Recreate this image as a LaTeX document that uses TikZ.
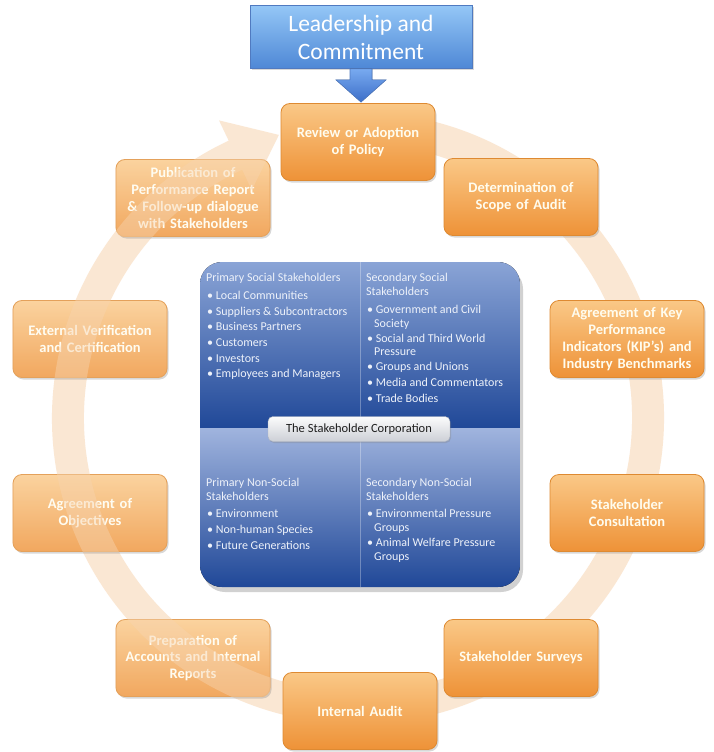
\documentclass[tikz,border=0pt]{standalone}
\usepackage{fontspec}
\setmainfont{Carlito}
\usetikzlibrary{calc,shadows}
\definecolor{otop}{RGB}{250,200,135}
\definecolor{obot}{RGB}{238,146,55}
\definecolor{oline}{RGB}{222,138,50}
\definecolor{ringc}{RGB}{247,212,175}
\definecolor{btopA}{RGB}{138,164,214}
\definecolor{btopB}{RGB}{160,180,222}
\definecolor{bbot}{RGB}{32,72,152}
\definecolor{ltop}{RGB}{148,198,246}
\definecolor{lbot}{RGB}{78,136,214}
\definecolor{lline}{RGB}{80,122,192}
\definecolor{btext}{RGB}{238,242,250}
\definecolor{otext}{RGB}{255,252,238}
\tikzset{
  obox/.style={draw=oline, line width=0.8pt, rounded corners=9pt,
    top color=otop, bottom color=obot, minimum width=154pt, minimum height=77pt,
    text width=152pt, align=center, text=otext, inner sep=0pt,
    font=\bfseries\fontsize{14.5}{16.8}\selectfont,
    drop shadow={opacity=0.3, shadow xshift=1.5pt, shadow yshift=-2pt}},
  btxt/.style={anchor=mid west, inner sep=0pt, text=btext, font=\fontsize{12}{14}\selectfont},
  ringfill/.style={fill=ringc, fill opacity=0.55},
  ringover/.style={fill=ringc, fill opacity=0.45},
  leadbox/.style={draw=lline, line width=0.8pt, top color=ltop, bottom color=lbot,
    minimum width=222pt, minimum height=63pt, align=center, text=white, inner sep=0pt,
    font=\fontsize{23.5}{28}\selectfont,
    drop shadow={opacity=0.3, shadow xshift=1.5pt, shadow yshift=-2pt}},
  corpbox/.style={draw={rgb,255:red,175;green,180;blue,190}, rounded corners=5pt,
    top color={rgb,255:red,252;green,252;blue,252}, bottom color={rgb,255:red,204;green,207;blue,214},
    minimum width=182pt, minimum height=25pt, inner sep=0pt,
    text={rgb,255:red,30;green,30;blue,30}, font=\fontsize{12.5}{14}\selectfont,
    drop shadow={opacity=0.3, shadow xshift=1pt, shadow yshift=-1.5pt}},
  barrow/.style={draw=lline, line width=0.6pt, top color={rgb,255:red,120;green,170;blue,240}, bottom color={rgb,255:red,60;green,110;blue,200}}
}
\begin{document}
\begin{tikzpicture}[x=1pt,y=-1pt]
\useasboundingbox (0,0) rectangle (713,752);
\fill[white] (0,0) rectangle (713,752);

% circular arrow (behind)
\begin{scope}[shift={(358,418)}]
\fill[ringfill] (-80:306) arc[start angle=-80, end angle=245, radius=306]
  -- (-139.0,-297.6) -- (-79.1,-283.1) -- (-106.2,-228.0)
  -- (245:274) arc[start angle=245, end angle=-80, radius=274] -- cycle;
\end{scope}

% central blue panel
\fill[black, opacity=0.18, rounded corners=22pt] (203,267) rectangle (523,592);
\begin{scope}
\clip[rounded corners=22pt] (200,262) rectangle (520,587);
\fill[top color=btopA, bottom color=bbot] (200,262) rectangle (520,428);
\fill[top color=btopB, bottom color=bbot] (200,428) rectangle (520,587);
\draw[white, opacity=0.3, line width=0.6pt] (360,262) -- (360,587);
\end{scope}

\foreach \t/\x/\y [count=\i] in {
  {Primary Social Stakeholders}/206/279,
  {• Local Communities}/207/297,
  {• Suppliers \& Subcontractors}/207/313,
  {• Business Partners}/207/328,
  {• Customers}/207/344,
  {• Investors}/207/360,
  {• Employees and Managers}/207/375,
  {Secondary Social}/366/279,
  {Stakeholders}/366/293,
  {• Government and Civil}/367/311,
  {Society}/374/325,
  {• Social and Third World}/367/340,
  {Pressure}/374/353,
  {• Groups and Unions}/367/368,
  {• Media and Commentators}/367/384,
  {• Trade Bodies}/367/400,
  {Primary Non-Social}/206/484,
  {Stakeholders}/206/498,
  {• Environment}/207/515,
  {• Non-human Species}/207/531,
  {• Future Generations}/207/547,
  {Secondary Non-Social}/366/484,
  {Stakeholders}/366/498,
  {• Environmental Pressure}/367/515,
  {Groups}/374/529,
  {• Animal Welfare Pressure}/367/544,
  {Groups}/374/558}
  \node[btxt] (t\i) at (\x,\y) {\t};

\node[corpbox] (corp) at (359,429) {The Stakeholder Corporation};

% cycle boxes
\node[obox] (review)  at (358,142) {Review or Adoption\\of Policy};
\node[obox] (determ)  at (521,197) {Determination of\\Scope of Audit};
\node[obox] (kpi)     at (627,339) {Agreement of Key\\Performance\\Indicators (KIP’s) and\\Industry Benchmarks};
\node[obox] (consult) at (627,513) {Stakeholder\\Consultation};
\node[obox] (surveys) at (521,658) {Stakeholder Surveys};
\node[obox] (audit)   at (360,711) {Internal Audit};
\node[obox] (prep)    at (193,658) {Preparation of\\Accounts and Internal\\Reports};
\node[obox] (obj)     at (90,513)  {Agreement of\\Objectives};
\node[obox] (ext)     at (90,339)  {External Verification\\and Certification};
\node[obox] (pub)     at (193,198) {Publication of\\Performance Report\\\& Follow-up dialogue\\with Stakeholders};

% ring passes in front of the left-hand boxes, which look washed out
\begin{scope}
\clip[rounded corners=9pt] (pub.south west) rectangle (pub.north east)
  (ext.south west) rectangle (ext.north east)
  (obj.south west) rectangle (obj.north east)
  (prep.south west) rectangle (prep.north east);
\fill[white, fill opacity=0.2] (0,0) rectangle (713,752);
\begin{scope}[shift={(358,418)}]
\fill[ringover] (-80:306) arc[start angle=-80, end angle=245, radius=306]
  -- (-139.0,-297.6) -- (-79.1,-283.1) -- (-106.2,-228.0)
  -- (245:274) arc[start angle=245, end angle=-80, radius=274] -- cycle;
\end{scope}
\end{scope}

% leadership box and block arrow
\node[leadbox] (lead) at (361,37) {Leadership and\\Commitment};
\coordinate (as) at (lead.south);
\coordinate (ae) at (review.north);
\filldraw[barrow] ($(as)+(-11,0)$) -- ($(as)+(-11,11)$) -- ($(as)+(-25,11)$)
  -- ($(as|-ae)+(0,-1)$) -- ($(as)+(25,11)$) -- ($(as)+(11,11)$) -- ($(as)+(11,0)$) -- cycle;
\end{tikzpicture}
\end{document}
